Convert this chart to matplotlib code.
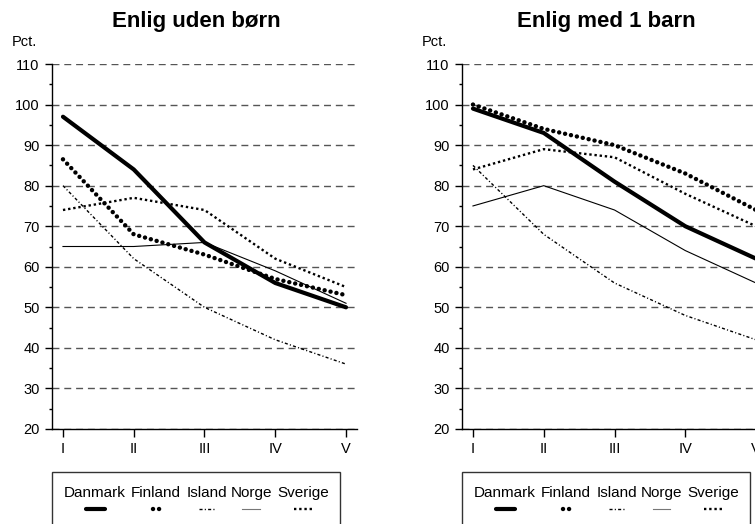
import matplotlib
matplotlib.use("Agg")
import matplotlib.pyplot as plt
from matplotlib.lines import Line2D
from matplotlib.patches import Rectangle
from matplotlib.ticker import MultipleLocator

plt.rcParams["font.family"] = ["Liberation Sans", "DejaVu Sans"]

categories = ["I", "II", "III", "IV", "V"]
countries = ["Danmark", "Finland", "Island", "Norge", "Sverige"]

# Enlig uden børn
danmark_uden = [97, 84, 66, 56, 50]
finland_uden = [86.5, 68, 63, 57, 53]
island_uden = [80, 62, 50, 42, 36]
norge_uden = [65, 65, 66, 59, 51]
sverige_uden = [74, 77, 74, 62, 55]

# Enlig med 1 barn
danmark_med = [99, 93, 81, 70, 62]
finland_med = [100, 94, 90, 83, 74]
island_med = [85, 68, 56, 48, 42]
norge_med = [75, 80, 74, 64, 56]
sverige_med = [84, 89, 87, 78, 70]

styles = {
    "Danmark": dict(lw=3.0, ls="-", solid_capstyle="round"),
    "Finland": dict(lw=3.2, ls=(0, (0.01, 1.35)), dash_capstyle="round"),
    "Island": dict(lw=1.0, ls=(0, (2.2, 1.6, 0.8, 1.6))),
    "Norge": dict(lw=0.8, ls="-"),
    "Sverige": dict(lw=1.7, ls=(0, (1.0, 1.2))),
}

W, H = 755, 524
fig = plt.figure(figsize=(W / 100, H / 100), dpi=100)


def px(x, y):
    return x / W, 1 - y / H


def panel(left, title, series):
    ax = fig.add_axes([left / W, (H - 429) / H, 305 / W, 365 / H])
    x = range(len(categories))
    for name, vals in zip(countries, series):
        ax.plot(x, vals, color="black", zorder=3, **styles[name])
    ax.set_xlim(-0.155, 4.155)
    ax.set_ylim(20, 110)
    ax.set_xticks(list(x))
    ax.set_xticklabels(categories)
    ax.yaxis.set_major_locator(MultipleLocator(10))
    ax.yaxis.set_minor_locator(MultipleLocator(5))
    for s in ["top", "right"]:
        ax.spines[s].set_visible(False)
    ax.spines["left"].set_linewidth(1.0)
    ax.spines["bottom"].set_linewidth(1.0)
    ax.tick_params(axis="y", which="major", length=5, width=1, pad=4, labelsize=10.5)
    ax.tick_params(axis="y", which="minor", length=2.5, width=1)
    ax.tick_params(axis="x", length=5.5, width=1, pad=4, labelsize=10.5)
    ax.grid(axis="y", color="#555555", lw=1, ls=(0, (5, 3.5)), zorder=1)
    ax.set_axisbelow(True)

    tx, ty = px(left + 144, 27)
    fig.text(tx, ty, title, ha="center", va="baseline", fontsize=16, fontweight="bold")
    tx, ty = px(left - 40, 46)
    fig.text(tx, ty, "Pct.", ha="left", va="baseline", fontsize=10.5)

    # legend box
    bx, by = px(left, 472)
    fig.add_artist(Rectangle((bx, by - 0.2), 288 / W, 0.2, transform=fig.transFigure,
                             fill=False, lw=1, ec="#333333"))
    centers = [43, 104, 155, 199, 251]
    widths = [19, 7, 17, 17, 18]
    for name, c, w in zip(countries, centers, widths):
        lx, ly = px(left + c, 497)
        fig.text(lx, ly, name, ha="center", va="baseline", fontsize=11)
        x0, hy = px(left + c - w / 2, 509)
        x1, _ = px(left + c + w / 2, 509)
        st = dict(styles[name])
        if name == "Norge":
            st["color"] = "#777777"
        else:
            st["color"] = "black"
        fig.add_artist(Line2D([x0, x1], [hy, hy], transform=fig.transFigure, **st))
    return ax


panel(52, "Enlig uden børn",
      [danmark_uden, finland_uden, island_uden, norge_uden, sverige_uden])
panel(462, "Enlig med 1 barn",
      [danmark_med, finland_med, island_med, norge_med, sverige_med])

fig.savefig("out.png", dpi=100)
